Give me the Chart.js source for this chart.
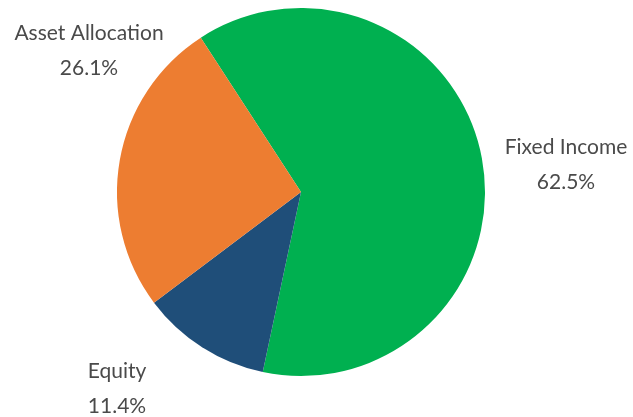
<!DOCTYPE html>
<html>
<head>
<meta charset="utf-8">
<script src="https://cdn.jsdelivr.net/npm/chart.js@4.4.0/dist/chart.umd.min.js"></script>
<style>
  html, body { margin: 0; padding: 0; background: #fff; }
  #wrap { width: 633px; height: 417px; }
</style>
</head>
<body>
<div id="wrap"><canvas id="pie"></canvas></div>
<script>
// данные
const labels = ['Fixed Income', 'Equity', 'Asset Allocation'];
const shares = [62.5, 11.4, 26.1];
const colors = ['#00b050', '#1f4e79', '#ed7d31'];

// смещение подписей от центра круга (px, базовая линия первой строки)
const labelOffsets = [[265, -38], [-184, 186], [-212, -152]];

const outsideLabels = {
  id: 'outsideLabels',
  afterDraw(chart) {
    const ctx = chart.ctx;
    const arc = chart.getDatasetMeta(0).data[0];
    const cx = arc.x, cy = arc.y;
    ctx.save();
    ctx.font = '21px Lato, sans-serif';
    ctx.fillStyle = '#4a4a4a';
    ctx.textAlign = 'center';
    ctx.textBaseline = 'alphabetic';
    labels.forEach((l, i) => {
      const x = cx + labelOffsets[i][0];
      const y = cy + labelOffsets[i][1];
      ctx.fillText(l, x, y);
      ctx.fillText(shares[i].toFixed(1) + '%', x, y + 35);
    });
    ctx.restore();
  }
};

new Chart(document.getElementById('pie'), {
  type: 'pie',
  data: {
    labels: labels,
    datasets: [{
      data: shares,
      backgroundColor: colors,
      borderWidth: 0
    }]
  },
  options: {
    responsive: true,
    maintainAspectRatio: false,
    animation: false,
    rotation: -33,
    layout: { padding: { left: 117, right: 148, top: 8, bottom: 41 } },
    plugins: {
      legend: { display: false },
      tooltip: { enabled: false }
    }
  },
  plugins: [outsideLabels]
});
</script>
</body>
</html>
